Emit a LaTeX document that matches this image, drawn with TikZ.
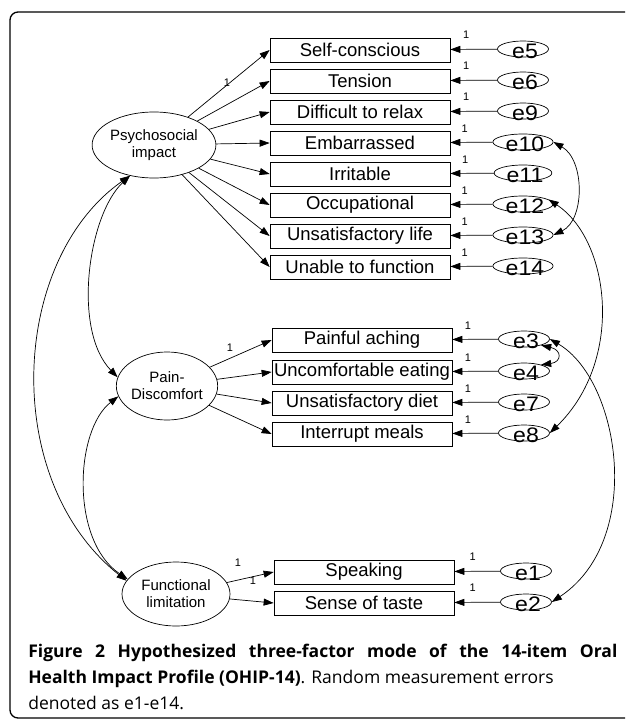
\documentclass[tikz,border=0pt]{standalone}
\usepackage{fontspec}
\setmainfont{Liberation Sans}
\newfontfamily\capfont{Open Sans}
\usetikzlibrary{arrows.meta,shapes.geometric}
\newcommand{\elab}[1]{\smash{\hspace{4pt}\raisebox{-9pt}{\scalebox{1.1}[1]{#1}}}}
\begin{document}
\begin{tikzpicture}[x=1pt,y=-1pt,line width=0.7pt,
    item/.style={draw,minimum width=180pt,minimum height=24pt,inner sep=0pt,font=\fontsize{18.5}{20}\selectfont},
    latent/.style={draw,ellipse,align=center,inner sep=0pt,font=\fontsize{15}{17}\selectfont},
    err/.style={draw,ellipse,minimum width=51pt,minimum height=16pt,inner sep=0pt,font=\fontsize{21}{21}\selectfont},
    one/.style={inner sep=0pt,font=\fontsize{11}{11}\selectfont},
    load/.style={-{Triangle[length=10pt,width=7pt]}},
    cov/.style={{Triangle[length=10pt,width=7pt]}-{Triangle[length=10pt,width=7pt]}},
    captext/.style={inner sep=0pt,anchor=base west,font=\capfont\fontsize{17.5}{19}\selectfont}]
    \useasboundingbox (0,0) rectangle (625,720);
    \draw[line width=1.3pt,rounded corners=8pt] (625,12) -- (10,12) -- (10,718) -- (625,718);

    % factors
    \node[latent,minimum width=118pt,minimum height=66pt] (psy) at (154,145) {Psychosocial\\impact};
    \node[latent,minimum width=94pt,minimum height=68pt] (pain) at (167,386) {Pain-\\Discomfort};
    \node[latent,minimum width=108pt,minimum height=64pt] (func) at (176,594) {Functional\\limitation};

    % items
    \node[item] (selfc) at (360,50) {Self-conscious};
    \node[item] (tension) at (360,81) {Tension};
    \node[item] (relax) at (360,112) {Difficult to relax};
    \node[item] (embar) at (360,143) {Embarrassed};
    \node[item] (irrit) at (360,174) {Irritable};
    \node[item] (occup) at (360,205) {Occupational};
    \node[item] (unlife) at (360,236) {Unsatisfactory life};
    \node[item] (unable) at (360,267) {Unable to function};
    \node[item] (aching) at (362,340) {Painful aching};
    \node[item] (eating) at (362,372) {Uncomfortable eating};
    \node[item] (diet) at (362,403) {Unsatisfactory diet};
    \node[item] (meals) at (362,434) {Interrupt meals};
    \node[item] (speak) at (364,572) {Speaking};
    \node[item] (taste) at (364,603) {Sense of taste};

    % errors
    \node[err] (e5) at (523,49) {\elab{e5}};
    \node[err] (e6) at (523,80) {\elab{e6}};
    \node[err] (e9) at (523,111) {\elab{e9}};
    \node[err] (e10) at (523,142) {\elab{e10}};
    \node[err] (e11) at (523,173) {\elab{e11}};
    \node[err] (e12) at (523,204) {\elab{e12}};
    \node[err] (e13) at (523,235) {\elab{e13}};
    \node[err] (e14) at (523,266) {\elab{e14}};
    \node[err] (e3) at (524,339) {\elab{e3}};
    \node[err] (e4) at (524,371) {\elab{e4}};
    \node[err] (e7) at (524,402) {\elab{e7}};
    \node[err] (e8) at (524,433) {\elab{e8}};
    \node[err] (e1) at (526,571) {\elab{e1}};
    \node[err] (e2) at (526,602) {\elab{e2}};

    % loadings
    \path[load] (psy) edge (selfc.west);
    \path[load] (psy) edge (tension.west);
    \path[load] (psy) edge (relax.west);
    \path[load] (psy) edge (embar.west);
    \path[load] (psy) edge (irrit.west);
    \path[load] (psy) edge (occup.west);
    \path[load] (psy) edge (unlife.west);
    \path[load] (psy) edge (unable.west);
    \path[load] (pain) edge (aching.west);
    \path[load] (pain) edge (eating.west);
    \path[load] (pain) edge (diet.west);
    \path[load] (pain) edge (meals.west);
    \path[load] (func) edge (speak.west);
    \path[load] (func) edge (taste.west);
    \node[one] (wpsy) at (227,83) {1};
    \node[one] (wpain) at (230,348) {1};
    \node[one] (wspeak) at (238,563) {1};
    \node[one] (wtaste) at (253,581) {1};

    % error paths
    \path[load] (e5) edge node[one,pos=0.66,above=10pt]{1} (selfc);
    \path[load] (e6) edge node[one,pos=0.66,above=10pt]{1} (tension);
    \path[load] (e9) edge node[one,pos=0.66,above=10pt]{1} (relax);
    \path[load] (e10) edge node[one,pos=0.66,above=10pt]{1} (embar);
    \path[load] (e11) edge node[one,pos=0.66,above=10pt]{1} (irrit);
    \path[load] (e12) edge node[one,pos=0.66,above=10pt]{1} (occup);
    \path[load] (e13) edge node[one,pos=0.66,above=10pt]{1} (unlife);
    \path[load] (e14) edge node[one,pos=0.66,above=10pt]{1} (unable);
    \path[load] (e3) edge node[one,pos=0.66,above=10pt]{1} (aching);
    \path[load] (e4) edge node[one,pos=0.66,above=10pt]{1} (eating);
    \path[load] (e7) edge node[one,pos=0.66,above=10pt]{1} (diet);
    \path[load] (e8) edge node[one,pos=0.66,above=10pt]{1} (meals);
    \path[load] (e1) edge node[one,pos=0.6,above=10pt]{1} (speak);
    \path[load] (e2) edge node[one,pos=0.6,above=10pt]{1} (taste);

    % covariances
    \draw[cov] (psy.-128) .. controls (88,215) and (72,330) .. (pain.170);
    \draw[cov] (psy.-128) .. controls (10,260) and (0,480) .. (func.165);
    \draw[cov] (pain.-168) .. controls (75,430) and (70,540) .. (func.163);
    \draw[cov] (e10.east) .. controls (585,160) and (585,220) .. (e13.east);
    \draw[cov] (e12.10) .. controls (610,240) and (625,360) .. (e8.east);
    \draw[cov] (e3.east) .. controls (620,380) and (645,540) .. (e2.east);
    \draw[cov] (e3.-20) .. controls (562,350) and (562,362) .. (e4.20);

    % caption
    \node[captext] (cap1) at (28,657) {\makebox[589pt][s]{\bfseries Figure 2 Hypothesized three-factor mode of the 14-item Oral}};
    \node[captext] (cap2) at (28,683) {{\bfseries Health Impact Profile (OHIP-14)}. Random measurement errors};
    \node[captext] (cap3) at (28,709) {denoted as e1-e14.};
\end{tikzpicture}
\end{document}
